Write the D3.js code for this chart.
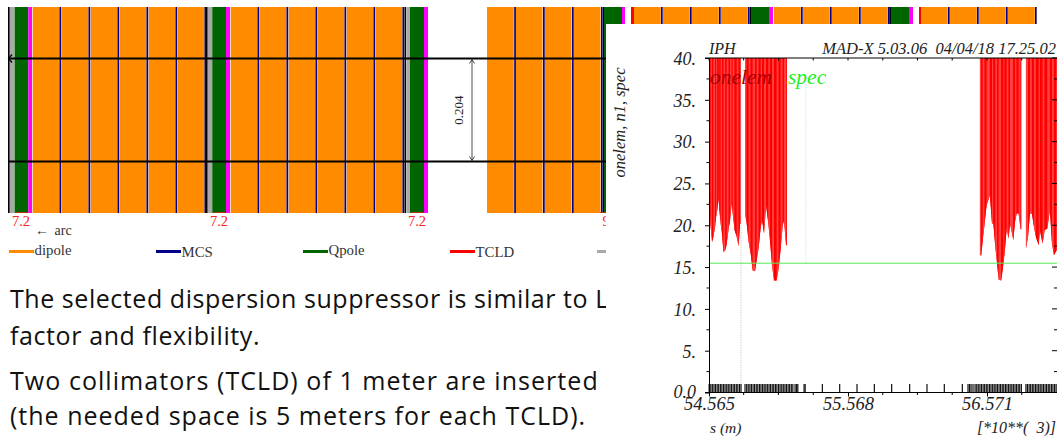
<!DOCTYPE html>
<html>
<head>
<meta charset="utf-8">
<script src="https://cdnjs.cloudflare.com/ajax/libs/d3/7.8.5/d3.min.js"></script>
<style>html,body{margin:0;padding:0;background:#fff;overflow:hidden}svg{display:block}</style>
</head>
<body>
<script>
// ---- lattice data (lattice units along the beam line) ----
const dipoleStart=[24.7,53.7,82.7,111.7,140.7,169.7,222.7,251.7,280.7,309.7,338.7,367.7,479,507.7,536.7,565.7,626,655,684,713,766,795,824,853,913,942,971,1000];
const mcsStart=[51.5,80.5,109.5,138.5,167.5,196.5,249.5,278.5,307.5,336.5,365.5,394.5,506.2,535,564,593,653,682,711,740,793,822,851,880,940,969,998,1027];
const blackStart=[0,198,396.5,595,742,881.5];
const greyStart=[1.5,200,398.5];
const quadStart=[6.5,204.3,402,596,743,883];
const quadWidth=[13.8,13.8,14,18,18,18];
const sextStart=[20.3,218,416,614,761,901];
const sextWidth=[3.7,4,4,3,4,4];
const tcldStart=[623,911];
const tcldWidth=[3,2];
const railPositions=[0.102,0.306];
const quadLabels=["7.2","7.2","7.2","9"];
const quadLabelPos=[13,211,409,598];
const legendNames=["dipole","MCS","Qpole","TCLD",""];
const legendColors=["#ff8c00","#00008b","#006400","#ff0000","#a9a9a9"];
const legendPos=[1,148,295,442,589];
const legendBase=[255,257,255,257,257];
const bodyLines=["The selected dispersion suppressor is similar to LH","factor and flexibility.","Two collimators (TCLD) of 1 meter are inserted in","(the needed space is 5 meters for each TCLD)."];
const bodyBase=[308,345,390,425];
const bodySpacing=[0.55,0.6,1.05,1.0];

// ---- MAD-X plot data ----
const c1S=[54.565,54.572,54.577,54.587,54.596,54.609,54.616,54.625,54.635,54.640,54.649,54.659,54.669,54.683,54.693,54.707,54.717,54.729,54.736,54.750,54.765,54.779,54.789,54.796];
const c1N=[21.0,21.0,19.8,18.0,18.6,19.8,21.0,21.8,23.2,21.8,20.2,19.0,16.8,17.0,17.8,19.6,20.6,22.6,21.4,19.4,18.6,17.5,20.2,20.2];
const c2S=[54.827,54.837,54.851,54.866,54.880,54.897,54.909,54.924,54.938,54.948,54.962,54.977,54.993,55.005,55.020,55.034,55.053,55.068,55.082,55.097,55.106,55.121,55.126];
const c2N=[21.2,20.2,18.0,16.6,14.6,14.5,15.8,17.4,19.8,20.6,19.0,22.4,20.2,18.2,15.2,13.4,13.4,14.9,17.2,20.0,20.6,17.6,17.6];
const c3S=[56.520,56.530,56.540,56.554,56.568,56.592,56.607,56.617,56.631,56.645,56.655,56.674,56.689,56.698,56.713,56.727,56.737,56.761,56.773,56.785,56.799,56.814,56.818];
const c3N=[16.4,16.4,18.2,20.2,22.4,23.6,20.2,20.2,17.4,15.2,13.5,13.4,15.4,16.6,19.6,18.4,20.2,18.2,20.4,21.4,21.4,19.5,19.5];
const c4S=[56.852,56.867,56.881,56.895,56.910,56.924,56.944,56.953,56.972,56.987,57.006,57.025,57.040,57.054,57.073];
const c4N=[17.2,18.6,21.4,21.4,19.8,18.6,17.6,19.4,17.8,19.4,19.6,21.8,17.8,16.4,17.0];
const specLevel=15.46;
const greyMarkS=54.796, greenMarkS=55.264, markTop=36.8;
const elementS=[54.566,54.578,54.589,54.601,54.612,54.624,54.635,54.647,54.658,54.670,54.681,54.693,54.704,54.716,54.727,54.739,54.750,54.762,54.773,54.785,54.796,
54.825,54.837,54.848,54.860,54.871,54.883,54.894,54.906,54.917,54.929,54.940,54.952,54.963,54.975,54.986,54.998,55.009,55.021,55.032,55.044,55.055,55.067,55.078,55.090,55.101,55.113,55.124,55.136,55.147,55.159,55.170,
55.186,55.197,55.206,55.251,55.259,
55.383,55.508,55.633,55.758,55.883,56.013,56.138,56.263,56.393,
56.434,56.445,56.456,56.470,56.485,56.497,56.508,56.520,56.531,56.543,56.554,56.566,56.577,56.589,56.600,56.612,56.623,56.635,56.646,56.658,56.669,56.681,56.692,56.704,56.715,56.727,56.738,56.750,56.761,56.773,56.784,56.796,56.807,56.819,
56.852,56.863,56.875,56.886,56.898,56.909,56.921,56.932,56.944,56.955,56.967,56.978,56.990,57.001,57.013,57.024,57.036,57.047,57.059,57.070];
const xTickVals=[54.565,55.568,56.571];
const xMinorVals=[54.815,55.066,55.317,55.819,56.069,56.320,56.822];
const yTickVals=[40,35,30,25,20,15,10,5];
const yMinorVals=[37.5,32.5,27.5,22.5,17.5,12.5,7.5,2.5];

const W=1057,H=436;
const svg=d3.select("body").append("svg").attr("width",W).attr("height",H);
const serif="'Liberation Serif',serif", sans="'Open Sans','Lato',sans-serif";

// ---- lattice ----
const lx=d3.scaleLinear().domain([0,1049]).range([8,1057]);
const ly=d3.scaleLinear().domain([0,0.408]).range([7,213]);
const lat=svg.append("g");
function blocks(starts,width,color){
  lat.append("g").selectAll("rect").data(starts).join("rect")
    .attr("x",d=>lx(d)).attr("y",ly(0))
    .attr("width",(d,i)=>lx(typeof width==="number"?width:width[i])-lx(0))
    .attr("height",ly(0.408)-ly(0)).attr("fill",color);
}
blocks(dipoleStart,26.8,"#ff8c00");
blocks(mcsStart,1.7,"#00008b");
blocks(greyStart,4.5,"#a9a9a9");
blocks(blackStart,1.6,"#000");
blocks(quadStart,quadWidth,"#006400");
blocks(sextStart,sextWidth,"#ff00ff");
blocks(tcldStart,tcldWidth,"#ff0000");

lat.append("g").selectAll("line").data(railPositions).join("line")
  .attr("x1",lx(0)).attr("x2",lx(598)).attr("y1",d=>ly(d)).attr("y2",d=>ly(d))
  .attr("stroke","#000").attr("stroke-width",2);
lat.append("path").attr("d",`M${lx(4)},${ly(.102)-4}L${lx(0.5)},${ly(.102)}L${lx(4)},${ly(.102)+4}`)
  .attr("fill","none").attr("stroke","#000").attr("stroke-width",1.2);
const dimX=lx(464);
lat.append("line").attr("x1",dimX).attr("x2",dimX).attr("y1",ly(.102)+1).attr("y2",ly(.306)-1).attr("stroke","#222").attr("stroke-width",.8);
[[.102,1],[.306,-1]].forEach(([v,s])=>{
  lat.append("path").attr("d",`M${dimX-2.5},${ly(v)+s*5}L${dimX},${ly(v)+s}L${dimX+2.5},${ly(v)+s*5}`).attr("fill","none").attr("stroke","#222").attr("stroke-width",.8);
});
lat.append("text").attr("transform",`translate(${lx(455)},${ly(.204)}) rotate(-90)`)
  .attr("text-anchor","middle").attr("font-family",serif).attr("font-size",13).attr("fill","#222").text("0.204");

const ql=lat.append("g").selectAll("g").data(quadLabels).join("g");
ql.append("line").attr("x1",(d,i)=>lx(quadLabelPos[i])-6).attr("x2",(d,i)=>lx(quadLabelPos[i])+6).attr("y1",212.5).attr("y2",212.5).attr("stroke","#c83000").attr("stroke-width",.9);
ql.append("text").attr("x",(d,i)=>lx(quadLabelPos[i])).attr("y",226).attr("text-anchor","middle").attr("font-family",serif).attr("font-size",14.5).attr("fill","#ff2020").text(d=>d);

lat.append("text").attr("x",35).attr("y",235).attr("font-family",serif).attr("font-size",14).attr("word-spacing",2).attr("fill","#333").text("\u2190 arc");

const lg=lat.append("g").selectAll("g").data(legendNames).join("g");
lg.append("line").attr("x1",(d,i)=>lx(legendPos[i])).attr("x2",(d,i)=>lx(legendPos[i])+25).attr("y1",251.5).attr("y2",251.5)
  .attr("stroke",(d,i)=>legendColors[i]).attr("stroke-width",3);
lg.append("text").attr("x",(d,i)=>lx(legendPos[i])+25.5).attr("y",(d,i)=>legendBase[i]).attr("font-family",serif).attr("font-size",14.8).attr("fill","#333").text(d=>d);

svg.append("g").selectAll("text").data(bodyLines).join("text")
  .attr("x",10).attr("y",(d,i)=>bodyBase[i]).attr("font-family",sans).attr("font-size",25)
  .attr("letter-spacing",(d,i)=>bodySpacing[i]).attr("fill","#111").text(d=>d);

// ---- MAD-X panel (covers what lies behind) ----
svg.append("rect").attr("x",606).attr("y",24).attr("width",W-606).attr("height",H-24).attr("fill","#fff");

const x=d3.scaleLinear().domain([54.565,56.571]).range([709,987]);
const y=d3.scaleLinear().domain([0,40]).range([392.5,58]);
const plot=svg.append("g");
const area=d3.area().x(d=>x(d[0])).y0(y(40)).y1(d=>y(d[1]));
[[c1S,c1N],[c2S,c2N],[c3S,c3N],[c4S,c4N]].forEach(([S,N])=>{
  const pts=S.map((s,i)=>[s,N[i]]);
  plot.append("path").attr("d",area(pts)).attr("fill","#ff0000");
  plot.append("g").selectAll("path").data(d3.pairs(pts)).join("path")
    .attr("d",d=>area(d)).attr("fill",(d,i)=>i%2?"#ff0000":"#ff4040");
});
plot.append("line").attr("x1",x(greyMarkS)).attr("x2",x(greyMarkS)).attr("y1",y(markTop)).attr("y2",y(0))
  .attr("stroke","#bbb").attr("stroke-width",1).attr("stroke-dasharray","1,1.5");
plot.append("line").attr("x1",x(greenMarkS)).attr("x2",x(greenMarkS)).attr("y1",y(markTop)).attr("y2",y(specLevel))
  .attr("stroke","#a8f0a8").attr("stroke-width",1).attr("stroke-dasharray","1,1.5");
plot.append("line").attr("x1",709).attr("x2",W).attr("y1",y(specLevel)).attr("y2",y(specLevel)).attr("stroke","#55e855").attr("stroke-width",1);

plot.append("g").selectAll("line").data(elementS).join("line")
  .attr("x1",d=>x(d)).attr("x2",d=>x(d)).attr("y1",y(0)).attr("y2",y(0)-8.5).attr("stroke","#111").attr("stroke-width",1.2);

const it="italic";
const axLeft=d3.axisLeft(y).tickValues(yTickVals).tickSize(4).tickFormat(d=>d+".");
const gl=plot.append("g").attr("transform","translate(709,0)").call(axLeft);
gl.select(".domain").attr("stroke","#000");
gl.selectAll("text").attr("font-family",serif).attr("font-style",it).attr("font-size",18).attr("x",-13).attr("dy","0.35em").attr("fill","#222");
gl.append("g").selectAll("line").data(yMinorVals).join("line").attr("x1",-2.5).attr("x2",0).attr("y1",d=>y(d)).attr("y2",d=>y(d)).attr("stroke","#000");
plot.append("g").selectAll("line").data(yTickVals.concat(yMinorVals)).join("line").attr("x1",d=>yTickVals.includes(d)?1052:1054).attr("x2",W).attr("y1",d=>y(d)).attr("y2",d=>y(d)).attr("stroke","#000");
const axB=d3.axisBottom(x).tickValues(xTickVals).tickSize(4).tickFormat(d3.format(".3f"));
const gb=plot.append("g").attr("transform",`translate(0,${y(0)})`).call(axB);
gb.select(".domain").attr("d",`M705,0H${W}`).attr("stroke","#000");
gb.selectAll("text").attr("font-family",serif).attr("font-style",it).attr("font-size",18.5).attr("y",4).attr("fill","#222");
gb.append("g").selectAll("line").data(xMinorVals).join("line").attr("x1",d=>x(d)).attr("x2",d=>x(d)).attr("y1",0).attr("y2",2.5).attr("stroke","#000");
plot.append("line").attr("x1",705).attr("x2",W).attr("y1",y(40)).attr("y2",y(40)).attr("stroke","#000");
plot.append("g").selectAll("line").data(xTickVals.concat(xMinorVals)).join("line").attr("x1",d=>x(d)).attr("x2",d=>x(d)).attr("y1",y(40)).attr("y2",y(40)+2.5).attr("stroke","#000");

function t(str,px,py,size,opts={}){
  const e=plot.append("text").attr("x",px).attr("y",py).attr("font-family",serif).attr("font-style",it).attr("font-size",size).attr("fill",opts.fill||"#222").style("white-space","pre").text(str);
  if(opts.anchor)e.attr("text-anchor",opts.anchor);
  return e;
}
t("0.0",696,397.5,18,{anchor:"end"});
t("IPH",709,54,16);
t("MAD-X 5.03.06  04/04/18 17.25.02",1056,54,16.5,{anchor:"end"});
t("onelem",710,84,21.5,{fill:"#a80000"});
t("spec",788,84,21.5,{fill:"#22ee22"});
t("s (m)",710,433,15.5);
t("[*10**(  3)]",1056,433,16,{anchor:"end"});
plot.append("text").attr("transform","translate(625,122.5) rotate(-90)").attr("text-anchor","middle").attr("font-family",serif).attr("font-style",it).attr("font-size",16.5).attr("fill","#222").text("onelem, n1, spec");
</script>
</body>
</html>
